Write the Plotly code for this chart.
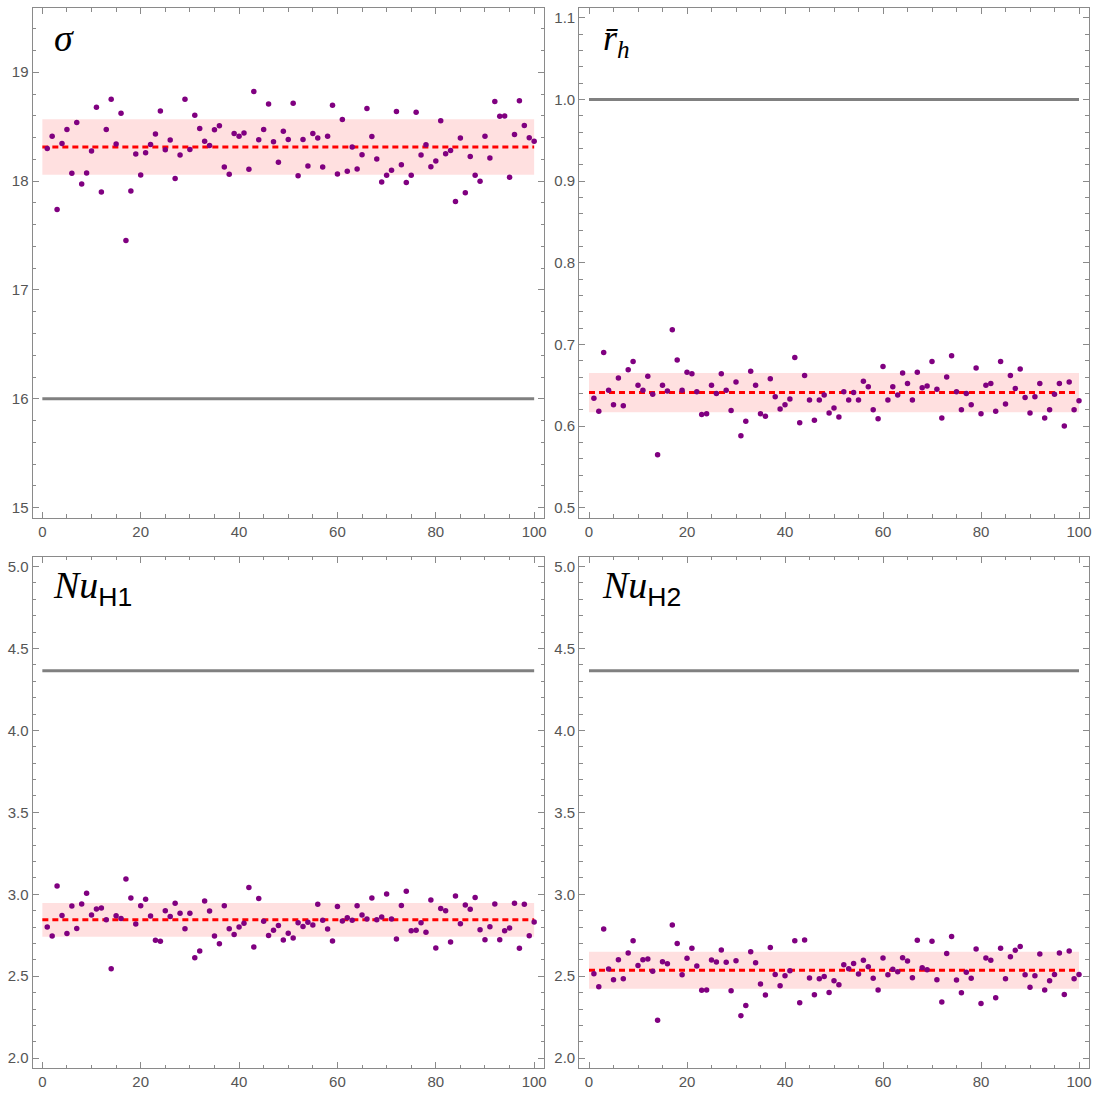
import plotly.graph_objects as go

# ---------------- data ----------------
run_index = list(range(1, 101))

sigma_vals = [
    18.300, 18.413, 17.739, 18.346, 18.474, 18.071, 18.538, 17.974, 18.074, 18.276,
    18.679, 17.900, 18.474, 18.752, 18.340, 18.624, 17.455, 17.910, 18.248, 18.056,
    18.261, 18.337, 18.432, 18.645, 18.288, 18.377, 18.023, 18.239, 18.752, 18.291,
    18.606, 18.483, 18.367, 18.328, 18.471, 18.508, 18.129, 18.062, 18.438, 18.413,
    18.441, 18.108, 18.822, 18.380, 18.474, 18.709, 18.361, 18.172, 18.459, 18.383,
    18.716, 18.050, 18.383, 18.139, 18.438, 18.395, 18.129, 18.413, 18.697, 18.065,
    18.566, 18.090, 18.313, 18.111, 18.242, 18.667, 18.410, 18.203, 17.992, 18.053,
    18.099, 18.639, 18.151, 17.986, 18.053, 18.633, 18.239, 18.334, 18.132, 18.184,
    18.554, 18.252, 18.282, 17.812, 18.395, 17.894, 18.227, 18.053, 17.998, 18.413,
    18.212, 18.731, 18.596, 18.599, 18.035, 18.429, 18.737, 18.511, 18.398, 18.367,
]

rh_vals = [
    0.634, 0.618, 0.690, 0.644, 0.626, 0.659, 0.625, 0.669, 0.679, 0.650,
    0.644, 0.661, 0.639, 0.565, 0.650, 0.643, 0.718, 0.681, 0.644, 0.666,
    0.664, 0.642, 0.614, 0.615, 0.650, 0.640, 0.664, 0.644, 0.619, 0.654,
    0.588, 0.606, 0.667, 0.650, 0.615, 0.612, 0.658, 0.636, 0.621, 0.626,
    0.633, 0.684, 0.604, 0.662, 0.632, 0.607, 0.632, 0.638, 0.616, 0.622,
    0.611, 0.642, 0.632, 0.641, 0.632, 0.655, 0.648, 0.620, 0.609, 0.673,
    0.632, 0.648, 0.638, 0.665, 0.652, 0.632, 0.666, 0.647, 0.649, 0.679,
    0.645, 0.610, 0.660, 0.686, 0.642, 0.620, 0.640, 0.626, 0.671, 0.615,
    0.650, 0.652, 0.618, 0.679, 0.627, 0.662, 0.646, 0.670, 0.635, 0.616,
    0.636, 0.652, 0.610, 0.620, 0.639, 0.652, 0.600, 0.654, 0.620, 0.631,
]

nu_h1_vals = [
    2.800, 2.745, 3.050, 2.871, 2.761, 2.928, 2.792, 2.941, 3.006, 2.873,
    2.910, 2.916, 2.845, 2.546, 2.869, 2.853, 3.093, 2.977, 2.818, 2.930,
    2.969, 2.867, 2.719, 2.713, 2.900, 2.865, 2.945, 2.884, 2.790, 2.884,
    2.613, 2.654, 2.959, 2.898, 2.745, 2.698, 2.930, 2.790, 2.755, 2.800,
    2.823, 3.042, 2.678, 2.975, 2.835, 2.749, 2.780, 2.810, 2.721, 2.763,
    2.733, 2.827, 2.804, 2.829, 2.812, 2.939, 2.841, 2.788, 2.715, 2.926,
    2.837, 2.857, 2.841, 2.930, 2.873, 2.849, 2.977, 2.845, 2.861, 3.002,
    2.849, 2.727, 2.932, 3.018, 2.778, 2.780, 2.827, 2.768, 2.965, 2.672,
    2.914, 2.900, 2.709, 2.989, 2.820, 2.934, 2.908, 2.981, 2.784, 2.723,
    2.802, 2.941, 2.723, 2.778, 2.794, 2.945, 2.670, 2.939, 2.747, 2.831,
]

nu_h2_vals = [
    2.515, 2.436, 2.788, 2.544, 2.479, 2.601, 2.485, 2.641, 2.717, 2.566,
    2.601, 2.605, 2.530, 2.232, 2.589, 2.576, 2.812, 2.700, 2.509, 2.609,
    2.670, 2.562, 2.414, 2.416, 2.599, 2.587, 2.660, 2.585, 2.411, 2.595,
    2.259, 2.322, 2.650, 2.582, 2.452, 2.385, 2.676, 2.511, 2.442, 2.503,
    2.534, 2.717, 2.338, 2.721, 2.489, 2.387, 2.485, 2.499, 2.401, 2.473,
    2.448, 2.570, 2.546, 2.578, 2.513, 2.597, 2.558, 2.487, 2.416, 2.611,
    2.509, 2.542, 2.527, 2.613, 2.593, 2.491, 2.719, 2.552, 2.540, 2.713,
    2.479, 2.342, 2.639, 2.743, 2.477, 2.399, 2.525, 2.487, 2.666, 2.334,
    2.611, 2.597, 2.369, 2.670, 2.485, 2.619, 2.658, 2.682, 2.509, 2.432,
    2.503, 2.635, 2.416, 2.473, 2.511, 2.641, 2.389, 2.654, 2.485, 2.511,
]

# mean, half-width of band, reference value
sigma_stats = (18.313, 0.255, 16.0)
rh_stats = (0.641, 0.024, 1.0)
nu_h1_stats = (2.844, 0.103, 4.364)
nu_h2_stats = (2.537, 0.113, 4.364)

x_ticks = [0, 20, 40, 60, 80, 100]
sigma_ticks = [15, 16, 17, 18, 19]
rh_ticks = [0.5, 0.6, 0.7, 0.8, 0.9, 1.0, 1.1]
nu_ticks = [2.0, 2.5, 3.0, 3.5, 4.0, 4.5, 5.0]

labels = [
    "<i>σ</i>",
    "<i>r̄</i><sub><i>h</i></sub>",
    "<i>Nu</i><sub><span style='font-family:Liberation Sans;font-style:normal'>H1</span></sub>",
    "<i>Nu</i><sub><span style='font-family:Liberation Sans;font-style:normal'>H2</span></sub>",
]

# ---------------- layout geometry ----------------
W, H = 1094, 1093
dom_x = [[32.5 / W, 544.0 / W], [579.2 / W, 1088.8 / W]]
dom_y_top = [1 - 517.5 / H, 1 - 8.0 / H]
dom_y_bot = [1 - 1068.0 / H, 1 - 556.7 / H]

panels = [
    dict(vals=sigma_vals, stats=sigma_stats, yr=[14.91, 19.59], ticks=sigma_ticks,
         minor=0.2, fmt="d", dx=dom_x[0], dy=dom_y_top, lab=labels[0], lpos=(52, 38), lsize=38),
    dict(vals=rh_vals, stats=rh_stats, yr=[0.488, 1.112], ticks=rh_ticks,
         minor=0.02, fmt=".1f", dx=dom_x[1], dy=dom_y_top, lab=labels[1], lpos=(601, 40), lsize=36),
    dict(vals=nu_h1_vals, stats=nu_h1_stats, yr=[1.94, 5.06], ticks=nu_ticks,
         minor=0.1, fmt=".1f", dx=dom_x[0], dy=dom_y_bot, lab=labels[2], lpos=(51, 588), lsize=38),
    dict(vals=nu_h2_vals, stats=nu_h2_stats, yr=[1.94, 5.06], ticks=nu_ticks,
         minor=0.1, fmt=".1f", dx=dom_x[1], dy=dom_y_bot, lab=labels[3], lpos=(600, 588), lsize=38),
]

FRAME = "#8a8a8a"
TICKFONT = dict(family="Liberation Sans, Arial, sans-serif", size=15, color="#555555")

fig = go.Figure()
layout = dict(
    width=W, height=H,
    margin=dict(l=0, r=0, t=0, b=0, autoexpand=False),
    paper_bgcolor="white", plot_bgcolor="white",
    showlegend=False, annotations=[],
)

for k, p in enumerate(panels, start=1):
    xa = "x" if k == 1 else f"x{k}"
    ya = "y" if k == 1 else f"y{k}"
    mean, half, ref = p["stats"]
    x0, x1 = x_ticks[0], x_ticks[-1]
    # uncertainty band
    fig.add_trace(go.Scatter(
        x=[x0, x1, x1, x0, x0], y=[mean - half, mean - half, mean + half, mean + half, mean - half],
        mode="lines", fill="toself", fillcolor="rgba(255,0,0,0.12)",
        line=dict(width=0, color="rgba(0,0,0,0)"), xaxis=xa, yaxis=ya, hoverinfo="skip"))
    # reference line
    fig.add_trace(go.Scatter(
        x=[x0, x1], y=[ref, ref], mode="lines",
        line=dict(color="#808080", width=3), xaxis=xa, yaxis=ya))
    # mean line
    fig.add_trace(go.Scatter(
        x=[x0, x1], y=[mean, mean], mode="lines",
        line=dict(color="#ff0000", width=3, dash="6px,4px"), xaxis=xa, yaxis=ya))
    # samples
    fig.add_trace(go.Scatter(
        x=run_index, y=p["vals"], mode="markers",
        marker=dict(color="#800080", size=5.5), xaxis=xa, yaxis=ya))

    xkey = "xaxis" if k == 1 else f"xaxis{k}"
    ykey = "yaxis" if k == 1 else f"yaxis{k}"
    layout[xkey] = dict(
        domain=p["dx"], anchor=ya, range=[-2, 102],
        tickvals=x_ticks, ticktext=[str(v) for v in x_ticks],
        ticks="inside", ticklen=6, tickcolor=FRAME, tickwidth=1,
        minor=dict(dtick=5, tick0=0, ticks="inside", ticklen=3.5, tickcolor=FRAME, tickwidth=1),
        showline=True, linecolor=FRAME, linewidth=1, mirror="allticks",
        showgrid=False, zeroline=False, tickfont=TICKFONT)
    layout[ykey] = dict(
        domain=p["dy"], anchor=xa, range=p["yr"],
        tickvals=p["ticks"], tickformat=p["fmt"],
        ticks="inside", ticklen=6, tickcolor=FRAME, tickwidth=1,
        minor=dict(dtick=p["minor"], tick0=p["ticks"][0], ticks="inside", ticklen=3.5,
                   tickcolor=FRAME, tickwidth=1),
        showline=True, linecolor=FRAME, linewidth=1, mirror="allticks",
        showgrid=False, zeroline=False, tickfont=TICKFONT)
    px, py = p["lpos"]
    layout["annotations"].append(dict(
        text=p["lab"], xref="paper", yref="paper", x=px / W, y=1 - py / H,
        xanchor="left", yanchor="middle", showarrow=False,
        font=dict(family="Liberation Serif", size=p["lsize"], color="black")))

fig.update_layout(**layout)
fig.write_html("out.html")
